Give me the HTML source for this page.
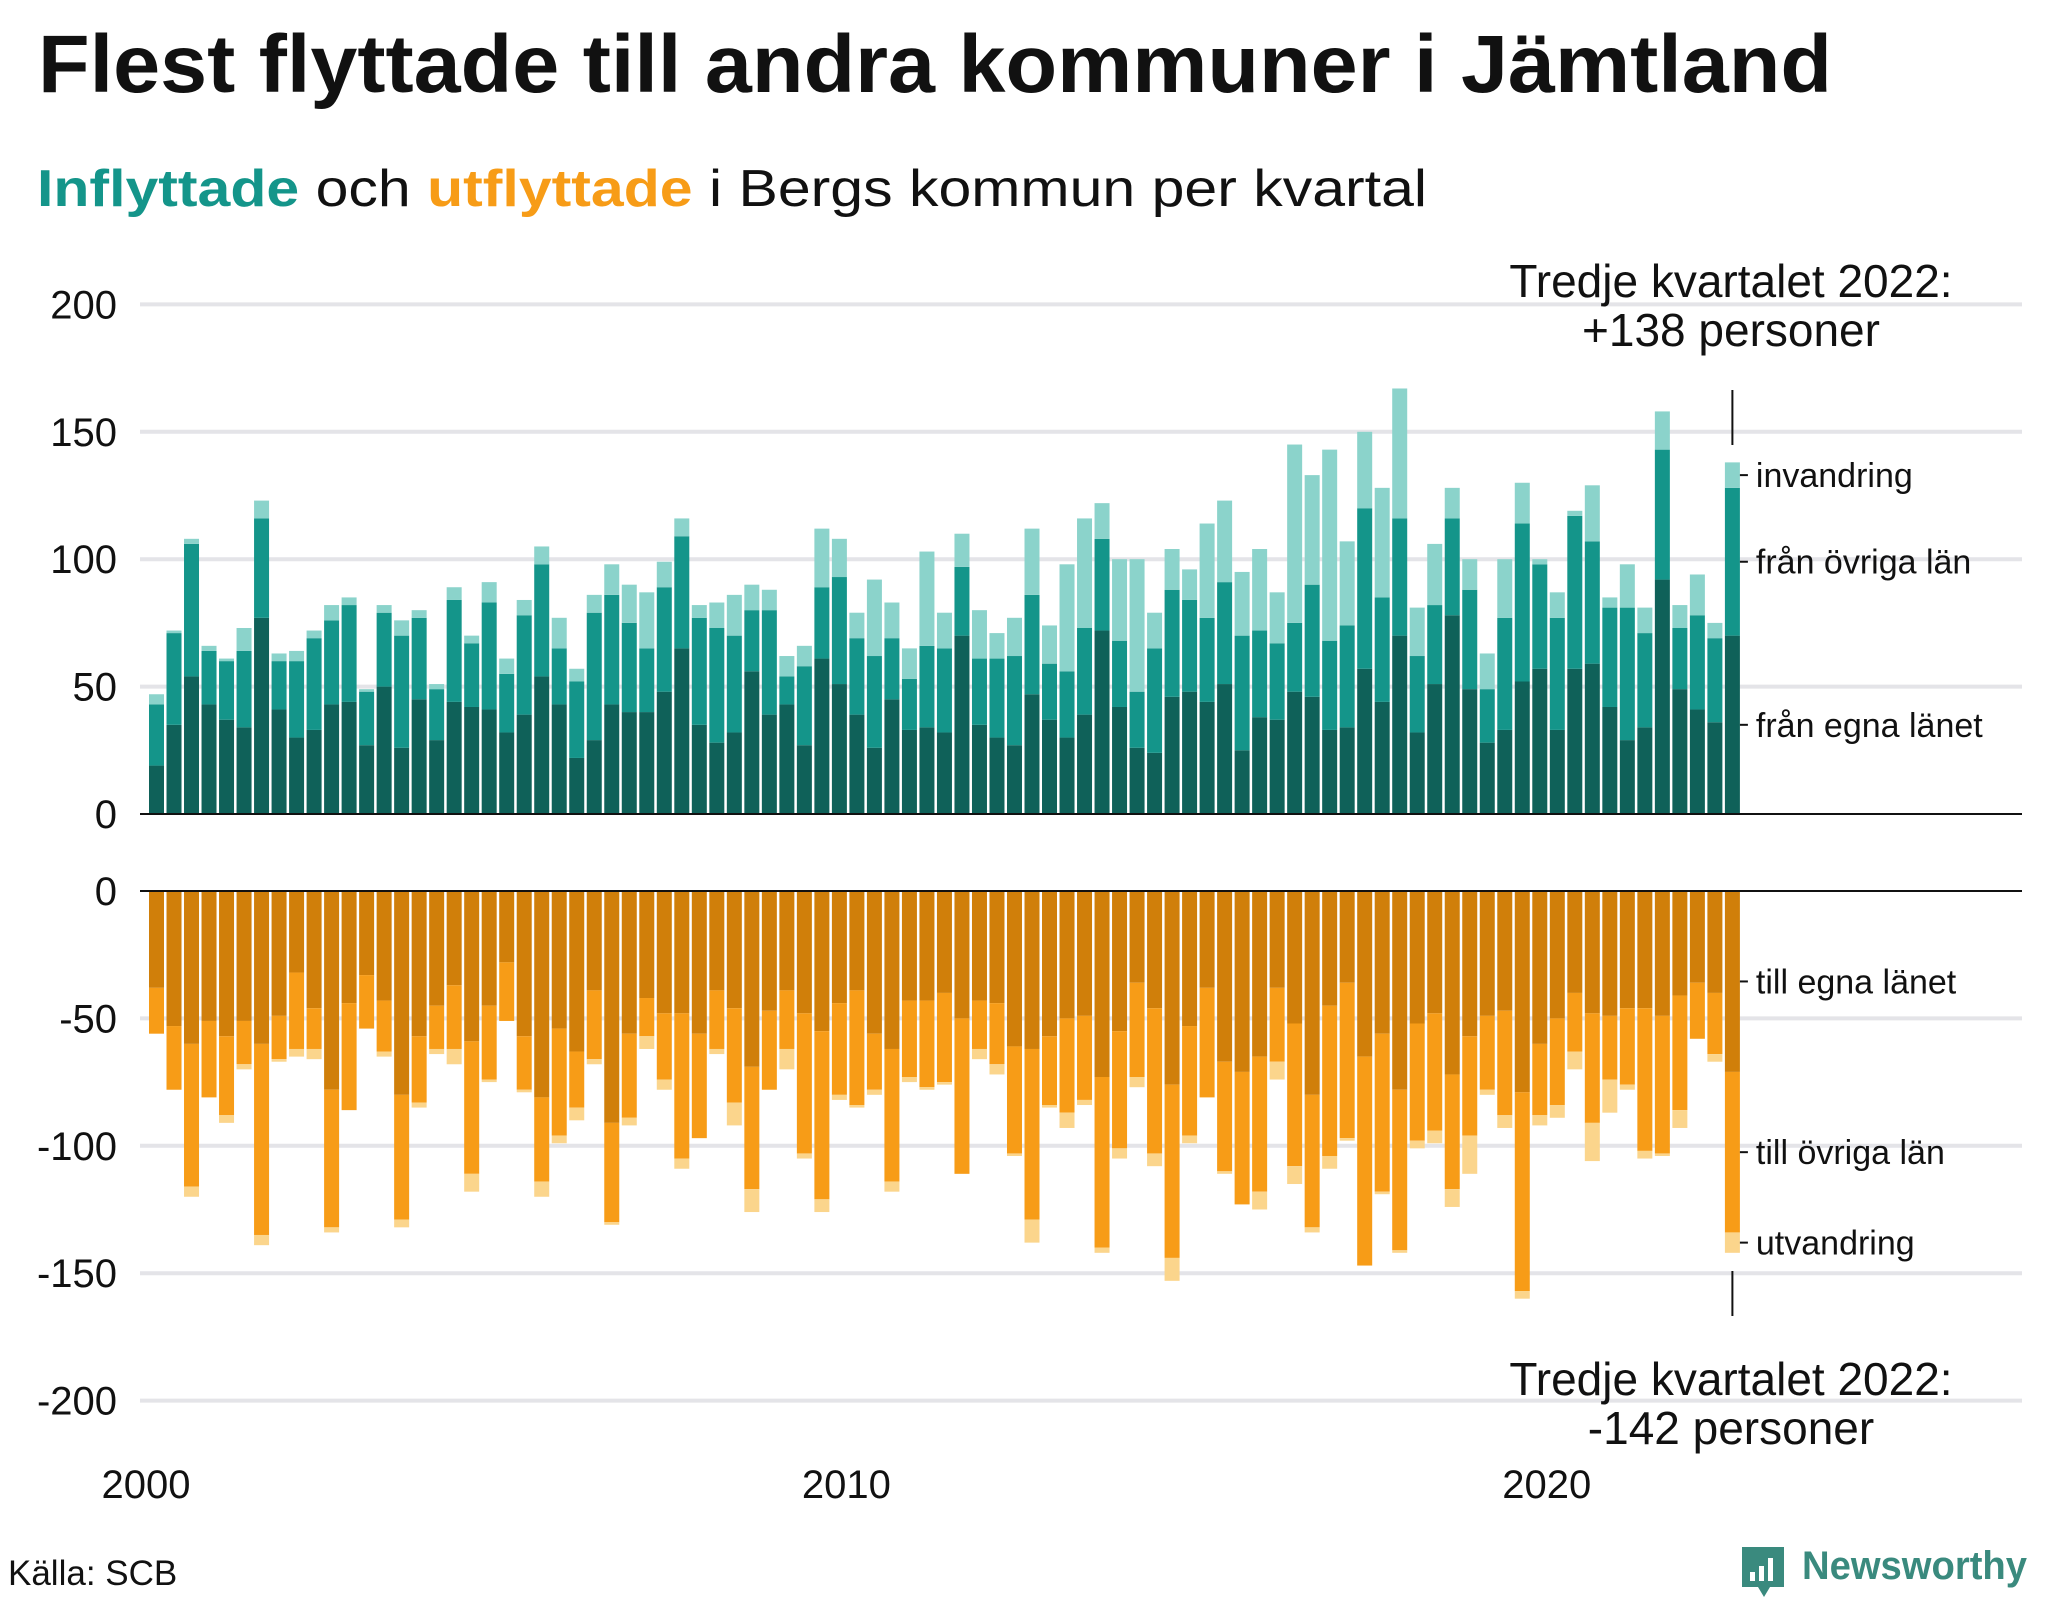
<!DOCTYPE html>
<html><head><meta charset="utf-8"><style>
html,body{margin:0;padding:0;background:#fff;}
svg{display:block;}
text{font-family:"Liberation Sans",sans-serif;}
</style></head><body>
<svg id="chart" width="2048" height="1600" viewBox="0 0 2048 1600" xmlns="http://www.w3.org/2000/svg">
<text x="38" y="92" font-size="82" font-weight="bold" fill="#111" textLength="1794" lengthAdjust="spacingAndGlyphs">Flest flyttade till andra kommuner i Jämtland</text>
<text x="37" y="206" font-size="52" fill="#111" textLength="1390" lengthAdjust="spacingAndGlyphs"><tspan font-weight="bold" fill="#14958a">Inflyttade</tspan> och <tspan font-weight="bold" fill="#f79c17">utflyttade</tspan> i Bergs kommun per kvartal</text>
<g id="grid"></g>
<g id="bars"></g>
<g id="labels"></g>
<text x="1731" y="297" font-size="46" fill="#111" text-anchor="middle">Tredje kvartalet 2022:</text>
<text x="1731" y="346" font-size="46" fill="#111" text-anchor="middle">+138 personer</text>
<text x="1731" y="1395" font-size="46" fill="#111" text-anchor="middle">Tredje kvartalet 2022:</text>
<text x="1731" y="1444" font-size="46" fill="#111" text-anchor="middle">-142 personer</text>
<text x="8" y="1585" font-size="35" fill="#111">Källa: SCB</text>
<g>
<path d="M1742 1547 h42 v40 h-14 l-6 10 l-6 -10 h-16 z" fill="#3a8a7e"/>
<rect x="1750" y="1572" width="5" height="9" fill="#fff"/>
<rect x="1759" y="1566" width="5" height="15" fill="#fff"/>
<rect x="1768" y="1558" width="5" height="23" fill="#fff"/>
<text x="1802" y="1579" font-size="40" font-weight="bold" fill="#3a8a7e" textLength="225" lengthAdjust="spacingAndGlyphs">Newsworthy</text>
</g>
</svg>
<script>
const inEgna = [19,35,54,43,37,34,77,41,30,33,43,44,27,50,26,45,29,44,42,41,32,39,54,43,22,29,43,40,40,48,65,35,28,32,56,39,43,27,61,51,39,26,45,33,34,32,70,35,30,27,47,37,30,39,72,42,26,24,46,48,44,51,25,38,37,48,46,33,34,57,44,70,32,51,78,49,28,33,52,57,33,57,59,42,29,34,92,49,41,36,70];
const inOvr = [43,71,106,64,60,64,116,60,60,69,76,82,48,79,70,77,49,84,67,83,55,78,98,65,52,79,86,75,65,89,109,77,73,70,80,80,54,58,89,93,69,62,69,53,66,65,97,61,61,62,86,59,56,73,108,68,48,65,88,84,77,91,70,72,67,75,90,68,74,120,85,116,62,82,116,88,49,77,114,98,77,117,107,81,81,71,143,73,78,69,128];
const inTot = [47,72,108,66,61,73,123,63,64,72,82,85,49,82,76,80,51,89,70,91,61,84,105,77,57,86,98,90,87,99,116,82,83,86,90,88,62,66,112,108,79,92,83,65,103,79,110,80,71,77,112,74,98,116,122,100,100,79,104,96,114,123,95,104,87,145,133,143,107,150,128,167,81,106,128,100,63,100,130,100,87,119,129,85,98,81,158,82,94,75,138];
const utEgna = [38,53,60,51,57,51,60,49,32,46,78,44,33,43,80,57,45,37,59,45,28,57,81,54,63,39,91,56,42,48,48,56,39,46,69,47,39,48,55,44,39,56,62,43,43,40,50,43,44,61,62,57,50,49,73,55,36,46,76,53,38,67,71,65,38,52,80,45,36,65,56,78,52,48,72,57,49,47,79,60,50,40,48,49,46,46,49,41,36,40,71];
const utOvr = [56,78,116,81,88,68,135,66,62,62,132,86,54,63,129,83,62,62,111,74,51,78,114,96,85,66,130,89,57,74,105,97,62,83,117,78,62,103,121,80,84,78,114,73,77,75,111,62,68,103,129,84,87,82,140,101,73,103,144,96,81,110,123,118,67,108,132,104,97,147,118,141,98,94,117,96,78,88,157,88,84,63,91,74,76,102,103,86,58,64,134];
const utTot = [56,78,120,81,91,70,139,67,65,66,134,86,54,65,132,85,64,68,118,75,51,79,120,99,90,68,131,92,62,78,109,97,64,92,126,78,70,105,126,82,85,80,118,75,78,76,111,66,72,104,138,85,93,84,142,105,77,108,153,99,81,111,123,125,74,115,134,109,98,147,119,142,101,99,124,111,80,93,160,92,89,70,106,87,78,105,104,93,58,67,142];
const yTicksTop = [0,50,100,150,200];
const yTicksBot = [0,-50,-100,-150,-200];
const yearLabels = ["2000","2010","2020"];
const yearIndex = [0,40,80];

const NS = "http://www.w3.org/2000/svg";
const X0 = 149, PITCH = 17.51, BW = 15;
const TOP0 = 814, BOT0 = 891, K = 2.548;
function xq(i){ return X0 + i*PITCH; }
function yTop(v){ return TOP0 - v*K; }
function yBot(v){ return BOT0 + Math.abs(v)*K; }
function mk(tag, attrs, parent){
  const e = document.createElementNS(NS, tag);
  for (const k in attrs) e.setAttribute(k, attrs[k]);
  parent.appendChild(e); return e;
}
const grid = document.getElementById('grid');
const bars = document.getElementById('bars');
const labels = document.getElementById('labels');

yTicksTop.forEach(v => {
  if (v !== 0) {
    const l = mk('line', {x1:140, x2:2022, y1:yTop(v), y2:yTop(v), stroke:'#e4e4e8', 'stroke-width':4}, grid);
    
    
  }
  const t = mk('text', {x:117, y:yTop(v)+14, 'font-size':40, fill:'#111', 'text-anchor':'end'}, labels);
  t.textContent = v;
  
  
});
yTicksBot.forEach(v => {
  if (v !== 0) {
    const l = mk('line', {x1:140, x2:2022, y1:yBot(v), y2:yBot(v), stroke:'#e4e4e8', 'stroke-width':4}, grid);
    
    
  }
  const t = mk('text', {x:117, y:yBot(v)+14, 'font-size':40, fill:'#111', 'text-anchor':'end'}, labels);
  t.textContent = v;
  
  
});

function seg(x, y1, y2, color, name){
  const r = mk('rect', {x:x, y:Math.min(y1,y2), width:BW, height:Math.max(0,Math.abs(y2-y1)), fill:color}, bars);
  
  
}
inEgna.forEach((v, i) => {
  const x = xq(i);
  seg(x, yTop(0), yTop(inEgna[i]), '#0f6159', 'bar-in-egna-' + i);
  seg(x, yTop(inEgna[i]), yTop(inOvr[i]), '#14958a', 'bar-in-ovriga-' + i);
  seg(x, yTop(inOvr[i]), yTop(inTot[i]), '#8bd3cb', 'bar-in-invandring-' + i);
  seg(x, yBot(0), yBot(utEgna[i]), '#d07f0a', 'bar-ut-egna-' + i);
  seg(x, yBot(utEgna[i]), yBot(utOvr[i]), '#f79c17', 'bar-ut-ovriga-' + i);
  seg(x, yBot(utOvr[i]), yBot(utTot[i]), '#fbd58c', 'bar-ut-utvandring-' + i);
});

const a1 = mk('line', {x1:140, x2:2022, y1:TOP0, y2:TOP0, stroke:'#111', 'stroke-width':2}, labels);


const a2 = mk('line', {x1:140, x2:2022, y1:BOT0, y2:BOT0, stroke:'#111', 'stroke-width':2}, labels);



yearLabels.forEach((s, k) => {
  const t = mk('text', {x:xq(yearIndex[k])-3, y:1498, 'font-size':40, fill:'#111', 'text-anchor':'middle'}, labels);
  t.textContent = s;
  
  
});

const last = inEgna.length - 1;
const lx = xq(last) + BW;
const cx = xq(last) + BW/2;
const m1 = mk('line', {x1:cx, x2:cx, y1:390, y2:445, stroke:'#111', 'stroke-width':2}, labels);


const m2 = mk('line', {x1:cx, x2:cx, y1:1271, y2:1316, stroke:'#111', 'stroke-width':2}, labels);



const segLabels = [
  ['invandring', yTop((inOvr[last]+inTot[last])/2), 'label-invandring'],
  ['från övriga län', yTop((inEgna[last]+inOvr[last])/2), 'label-fran-ovriga-lan'],
  ['från egna länet', yTop(inEgna[last]/2), 'label-fran-egna-lanet'],
  ['till egna länet', yBot(utEgna[last]/2), 'label-till-egna-lanet'],
  ['till övriga län', yBot((utEgna[last]+utOvr[last])/2), 'label-till-ovriga-lan'],
  ['utvandring', yBot((utOvr[last]+utTot[last])/2), 'label-utvandring']
];
segLabels.forEach(d => {
  const tk = mk('line', {x1:lx, x2:lx+8, y1:d[1], y2:d[1], stroke:'#111', 'stroke-width':2}, labels);
  
  
  const t = mk('text', {x:lx+16, y:d[1]+12, 'font-size':34, fill:'#111'}, labels);
  t.textContent = d[0];
  
  
});
</script>
</body></html>
